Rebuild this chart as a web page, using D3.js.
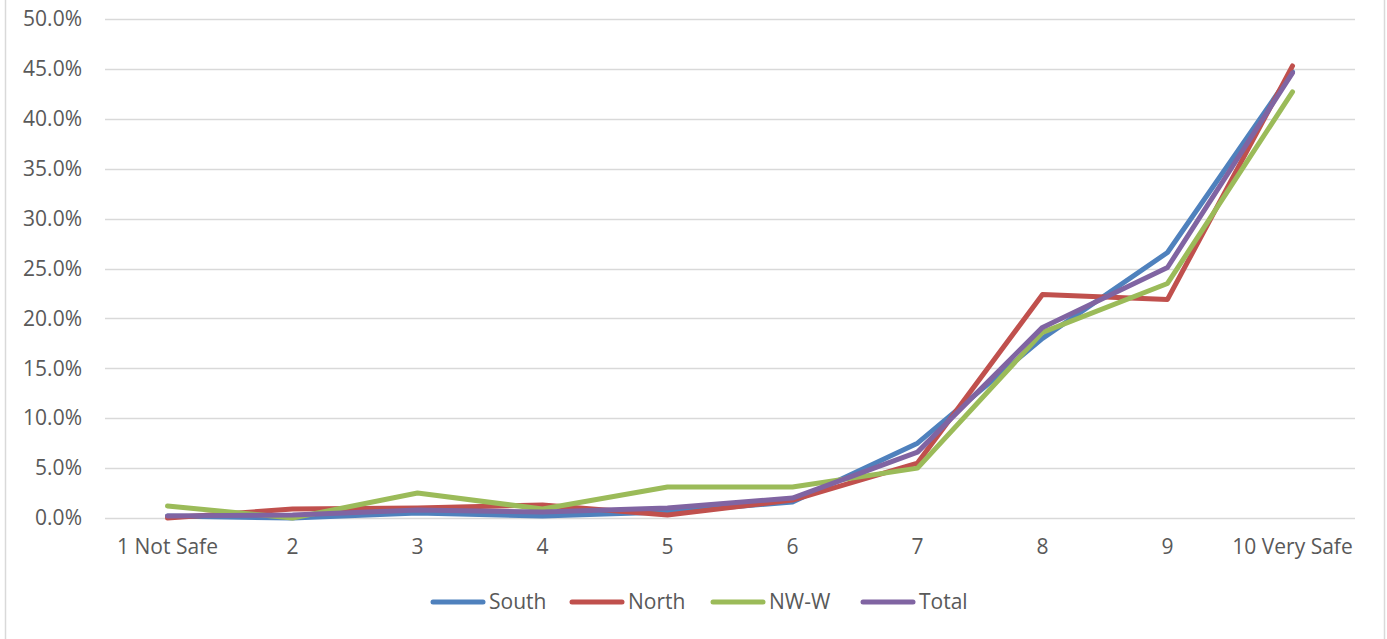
<!DOCTYPE html>
<html>
<head>
<meta charset="utf-8">
<script src="https://cdn.jsdelivr.net/npm/d3@7/dist/d3.min.js"></script>
<style>
  html, body { margin: 0; padding: 0; background: #fff; }
  svg { display: block; }
  text { font-family: "Open Sans", "Noto Sans", sans-serif; fill: #595959; }
</style>
</head>
<body>
<svg id="chart" width="1387" height="639"></svg>
<script>
// Share of respondents per safety rating, by area (percent)
const categories = ["1 Not Safe", "2", "3", "4", "5", "6", "7", "8", "9", "10 Very Safe"];
const south = [0.2, 0.0, 0.5, 0.2, 0.6, 1.6, 7.5, 18.0, 26.6, 44.7];
const north = [0.0, 0.9, 1.0, 1.3, 0.3, 1.8, 5.5, 22.4, 21.9, 45.3];
const nwW   = [1.2, 0.0, 2.5, 0.9, 3.1, 3.1, 5.0, 18.6, 23.5, 42.7];
const total = [0.2, 0.3, 0.8, 0.6, 1.0, 2.0, 6.6, 19.1, 25.1, 44.6];
const yTicks = [0, 5, 10, 15, 20, 25, 30, 35, 40, 45, 50];

const series = [
  { name: "South", values: south, color: "#4F81BD" },
  { name: "North", values: north, color: "#C0504D" },
  { name: "NW-W",  values: nwW,   color: "#9BBB59" },
  { name: "Total", values: total, color: "#8064A2" }
];

const svg = d3.select("#chart");
const W = 1387, H = 639;
const FONT = 21;

// outer chart frame
svg.append("rect")
  .attr("x", 5.5).attr("y", -2).attr("width", W - 8).attr("height", H + 4)
  .attr("fill", "none").attr("stroke", "#D9D9D9").attr("stroke-width", 1.5);

const plot = { left: 105, right: 1355, top: 19, bottom: 518 };

const x = d3.scaleBand().domain(categories).range([plot.left, plot.right]);
const y = d3.scaleLinear().domain([0, 50]).range([plot.bottom, plot.top]);

// horizontal gridlines
svg.append("g").selectAll("line").data(yTicks).join("line")
  .attr("x1", plot.left).attr("x2", plot.right)
  .attr("y1", d => Math.round(y(d)) + 0.5).attr("y2", d => Math.round(y(d)) + 0.5)
  .attr("stroke", "#D9D9D9").attr("stroke-width", 1.5);

// y axis labels
const yAxis = d3.axisLeft(y).tickValues(yTicks).tickSize(0).tickPadding(0)
  .tickFormat(d => d.toFixed(1) + "%");
svg.append("g").attr("transform", `translate(82,0)`).call(yAxis)
  .call(g => g.select(".domain").remove())
  .call(g => g.selectAll("text").attr("font-size", FONT).attr("fill", "#595959")
    .attr("font-family", "'Open Sans', sans-serif"));

// x axis labels
const xAxis = d3.axisBottom(x).tickSize(0).tickPadding(0);
svg.append("g").attr("transform", `translate(0,${plot.bottom + 21})`).call(xAxis)
  .call(g => g.select(".domain").remove())
  .call(g => g.selectAll("text").attr("font-size", FONT).attr("fill", "#595959")
    .attr("font-family", "'Open Sans', sans-serif"));

// series lines
const line = d3.line()
  .x((d, i) => x(categories[i]) + x.bandwidth() / 2)
  .y(d => y(d));

svg.append("g").selectAll("path").data(series).join("path")
  .attr("d", s => line(s.values))
  .attr("fill", "none")
  .attr("stroke", s => s.color)
  .attr("stroke-width", 5)
  .attr("stroke-linejoin", "round")
  .attr("stroke-linecap", "round");

// legend
const legendX = [431, 570, 711, 861];
const lg = svg.append("g").selectAll("g").data(series).join("g")
  .attr("transform", (s, i) => `translate(${legendX[i]},602)`);
lg.append("line")
  .attr("x1", 2).attr("x2", 52).attr("y1", 0).attr("y2", 0)
  .attr("stroke", s => s.color).attr("stroke-width", 5).attr("stroke-linecap", "round");
lg.append("text")
  .attr("x", 58).attr("y", 0).attr("dy", "0.35em")
  .attr("font-size", FONT)
  .text(s => s.name);
</script>
</body>
</html>
